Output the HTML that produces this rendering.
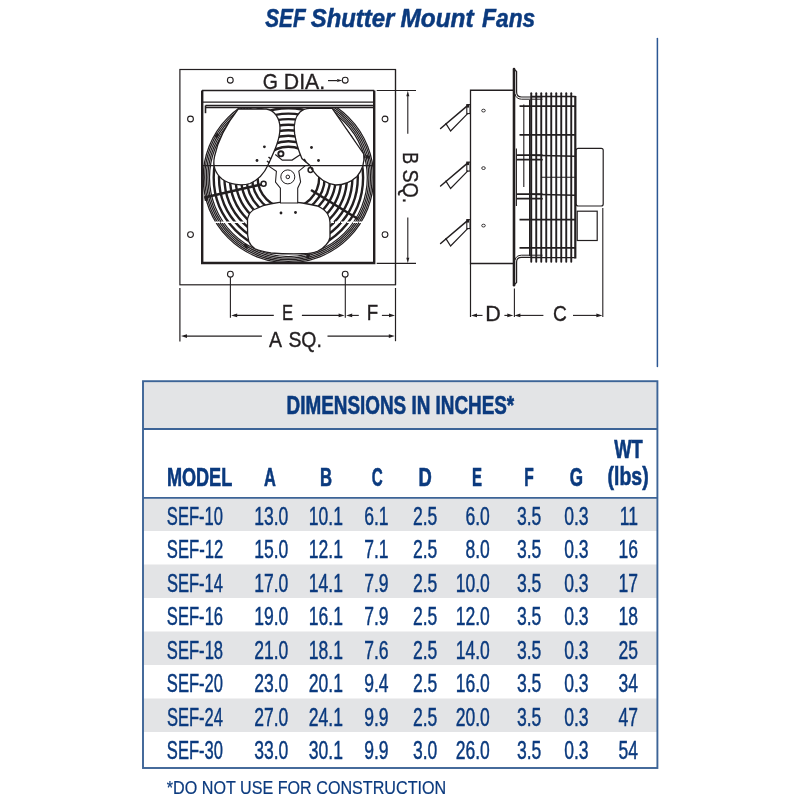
<!DOCTYPE html>
<html><head><meta charset="utf-8"><title>SEF Shutter Mount Fans</title>
<style>
html,body{margin:0;padding:0;background:#fff;width:800px;height:800px;overflow:hidden;}
svg{display:block;will-change:transform;font-family:"Liberation Sans",sans-serif;}
</style></head><body>
<svg width="800" height="800" viewBox="0 0 800 800"><text x="265.25" y="27" font-family="Liberation Sans" font-weight="bold" font-style="italic" font-size="25.4" fill="#0b3a7e" stroke="#0b3a7e" stroke-width="0.5" textLength="40.46" lengthAdjust="spacingAndGlyphs" >SEF</text>
<text x="310.76" y="27" font-family="Liberation Sans" font-weight="bold" font-style="italic" font-size="25.4" fill="#0b3a7e" stroke="#0b3a7e" stroke-width="0.5" textLength="83.61" lengthAdjust="spacingAndGlyphs" >Shutter</text>
<text x="400.42" y="27" font-family="Liberation Sans" font-weight="bold" font-style="italic" font-size="25.4" fill="#0b3a7e" stroke="#0b3a7e" stroke-width="0.5" textLength="73.19" lengthAdjust="spacingAndGlyphs" >Mount</text>
<text x="482.05" y="27" font-family="Liberation Sans" font-weight="bold" font-style="italic" font-size="25.4" fill="#0b3a7e" stroke="#0b3a7e" stroke-width="0.5" textLength="53.18" lengthAdjust="spacingAndGlyphs" >Fans</text>
<line x1="657.4" y1="38.5" x2="657.4" y2="366.5" stroke="#2b5794" stroke-width="1.5" stroke-linecap="round"/>
<rect x="179.9" y="69.5" width="215.6" height="215.3" fill="none" stroke="#231f20" stroke-width="1.2"/><circle cx="230.3" cy="80.2" r="2.9" fill="none" stroke="#231f20" stroke-width="1.1"/><circle cx="345.2" cy="80.2" r="2.9" fill="none" stroke="#231f20" stroke-width="1.1"/><circle cx="190.5" cy="119" r="2.9" fill="none" stroke="#231f20" stroke-width="1.1"/><circle cx="385" cy="119" r="2.9" fill="none" stroke="#231f20" stroke-width="1.1"/><circle cx="190.5" cy="234.6" r="2.9" fill="none" stroke="#231f20" stroke-width="1.1"/><circle cx="385" cy="234.6" r="2.9" fill="none" stroke="#231f20" stroke-width="1.1"/><circle cx="230.4" cy="274.2" r="2.9" fill="none" stroke="#231f20" stroke-width="1.1"/><circle cx="345.2" cy="274.2" r="2.9" fill="none" stroke="#231f20" stroke-width="1.1"/><defs><clipPath id="fc"><rect x="202" y="107" width="172.2" height="156"/></clipPath></defs><g clip-path="url(#fc)"><circle cx="288.4" cy="177.6" r="30.8" fill="none" stroke="#231f20" stroke-width="2.4"/><circle cx="288.4" cy="177.6" r="36.3" fill="none" stroke="#231f20" stroke-width="2.4"/><circle cx="288.4" cy="177.6" r="41.8" fill="none" stroke="#231f20" stroke-width="2.4"/><circle cx="288.4" cy="177.6" r="47.3" fill="none" stroke="#231f20" stroke-width="2.4"/><circle cx="288.4" cy="177.6" r="52.9" fill="none" stroke="#231f20" stroke-width="2.4"/><circle cx="288.4" cy="177.6" r="58.5" fill="none" stroke="#231f20" stroke-width="2.4"/><circle cx="288.4" cy="177.6" r="64" fill="none" stroke="#231f20" stroke-width="2.4"/><circle cx="288.4" cy="177.6" r="69.4" fill="none" stroke="#231f20" stroke-width="2.4"/><circle cx="288.4" cy="177.6" r="74.7" fill="none" stroke="#231f20" stroke-width="2.4"/><circle cx="288.4" cy="177.6" r="78.9" fill="none" stroke="#231f20" stroke-width="1.25"/><circle cx="288.4" cy="177.6" r="80.5" fill="none" stroke="#231f20" stroke-width="1.25"/><circle cx="288.4" cy="177.6" r="82.1" fill="none" stroke="#231f20" stroke-width="1.25"/><circle cx="288.4" cy="177.6" r="83.7" fill="none" stroke="#231f20" stroke-width="1.25"/><circle cx="288.4" cy="177.6" r="85.2" fill="none" stroke="#231f20" stroke-width="1.25"/><line x1="203" y1="222.2" x2="373" y2="222.2" stroke="#fff" stroke-width="1.4" stroke-dasharray="5 1"/><line x1="204.5" y1="197.4" x2="261" y2="184.6" stroke="#231f20" stroke-width="2.6"/><line x1="311" y1="190" x2="358" y2="219" stroke="#231f20" stroke-width="2.6"/><rect x="214.70000000000002" y="133.9" width="4.4" height="3.2" fill="#231f20" transform="rotate(-55 216.9 135.5)"/><rect x="365.5" y="155.4" width="4.4" height="3.2" fill="#231f20" transform="rotate(15 367.7 157)"/><rect x="305.8" y="254.4" width="4.4" height="3.2" fill="#231f20" transform="rotate(-80 308 256)"/><rect x="243.8" y="244.4" width="4.4" height="3.2" fill="#231f20" transform="rotate(50 246 246)"/><rect x="203.8" y="196.9" width="4.4" height="3.2" fill="#231f20" transform="rotate(80 206 198.5)"/><path d="M238.2,109 L266.4,109 C274,110 280,118 280,128 C280,140 274,152 268,165 C264,174 258,180 250,183.5 C242,186 230,185 222,179 C215,173 212.5,165 214.6,156 C218,140 228,122 238.2,109 Z" fill="#fff" stroke="#231f20" stroke-width="1.3"/><path d="M309.7,108.4 L332.2,108.4 L363.7,154 C364.5,160 364,168 357,176.5 C351,182 344,185 335.6,185 C327,184 318,178 312,169.7 L309.7,165.2 L301.9,158.5 C299,152 296,142 294.6,133.7 C293.5,126 295,117 300,112 C303,109.5 306,108.4 309.7,108.4 Z" fill="#fff" stroke="#231f20" stroke-width="1.3"/><path d="M247.5,218.75 C249,213 252,210 256,208.75 C261,206 266,204.5 271,203.75 C277,202.5 282,201.9 287.5,201.9 C293,201.9 298,202.4 302.5,203 C308,204 313,205 317.5,206 C322,208 325.5,210.5 327.5,213.75 C329.5,217 330,220 330,222.5 L330,237.5 C329.5,240 328,243 326,245 C323.5,248 320.5,250 317.5,251.25 C313,253 308,253.5 302.5,253.75 C292,254 281,253.8 271,253 C265,252 259,250.5 255,248.75 C252,247 250,244.5 248.75,241.25 C247.7,237 247.3,232 247.5,227.5 Z" fill="#fff" stroke="#231f20" stroke-width="1.3"/><path d="M268,165.6 L276.4,171.2 L275.5,182 L280.4,188.2 L280.4,203 L297.7,203 L297.7,188.2 L300.6,182 L298.8,171.2 L305.5,165.6 Z" fill="#fff" stroke="#231f20" stroke-width="1.1"/><circle cx="287.8" cy="176.9" r="7" fill="none" stroke="#231f20" stroke-width="1.0"/><circle cx="287.8" cy="176.9" r="1.8" fill="none" stroke="#231f20" stroke-width="1.0"/><path d="M275.3,154.5 L282.3,160.1 L292.1,160.1 L300.5,154.5" stroke="#231f20" stroke-width="1.2" fill="none"/><circle cx="280.9" cy="153.8" r="2.6" fill="none" stroke="#231f20" stroke-width="1.9"/><path d="M268.5,157 L271,159 M267,161 L269.5,163 M304,159 L306,162" stroke="#231f20" stroke-width="1.6"/><circle cx="263.6" cy="183.8" r="2.5" fill="none" stroke="#231f20" stroke-width="1.5"/><circle cx="310.5" cy="170" r="2.4" fill="none" stroke="#231f20" stroke-width="1.5"/><circle cx="264.4" cy="146.8" r="1.4" fill="#231f20"/><circle cx="257" cy="160.5" r="1.4" fill="#231f20"/><circle cx="311.5" cy="147.5" r="1.4" fill="#231f20"/><circle cx="318.5" cy="160.5" r="1.4" fill="#231f20"/><circle cx="281" cy="213" r="1.4" fill="#231f20"/><circle cx="295.5" cy="212.5" r="1.4" fill="#231f20"/><line x1="203" y1="165.6" x2="373.5" y2="165.6" stroke="#231f20" stroke-width="1.3"/></g><path d="M202,90.5 L374.2,90.5" stroke="#231f20" stroke-width="1.3"/><path d="M202.2,90.5 L202.2,263 L374.2,263 L374.2,90.5" fill="none" stroke="#231f20" stroke-width="2.4"/><line x1="202" y1="102.1" x2="374.2" y2="102.1" stroke="#231f20" stroke-width="1.2"/><line x1="205.5" y1="105.5" x2="374.2" y2="105.5" stroke="#231f20" stroke-width="1.3"/><line x1="205.5" y1="107.6" x2="374.2" y2="107.6" stroke="#231f20" stroke-width="1.5"/><line x1="205.5" y1="105.5" x2="205.5" y2="113.2" stroke="#231f20" stroke-width="1.6"/><text x="262.69" y="88.8" font-family="Liberation Sans" font-weight="normal" font-style="normal" font-size="22" fill="#231f20" stroke="#231f20" stroke-width="0.35" textLength="15.19" lengthAdjust="spacingAndGlyphs" >G</text><text x="283.83" y="88.8" font-family="Liberation Sans" font-weight="normal" font-style="normal" font-size="22" fill="#231f20" stroke="#231f20" stroke-width="0.35" textLength="41.33" lengthAdjust="spacingAndGlyphs" >DIA.</text><line x1="328" y1="80.6" x2="337" y2="80.6" stroke="#231f20" stroke-width="1.2"/><path d="M342.2,80.6 L337.2,79.1 L337.2,82.1 Z" fill="#231f20"/><line x1="376.7" y1="90.5" x2="416" y2="90.5" stroke="#231f20" stroke-width="1.1"/><line x1="376.7" y1="263.4" x2="416" y2="263.4" stroke="#231f20" stroke-width="1.1"/><line x1="395.5" y1="69.5" x2="395.5" y2="284.8" stroke="#231f20" stroke-width="1.2"/><line x1="407.8" y1="95" x2="407.8" y2="133.8" stroke="#231f20" stroke-width="1.1"/><line x1="407.8" y1="217.5" x2="407.8" y2="258" stroke="#231f20" stroke-width="1.1"/><path d="M407.8,90.8 L406.3,96.3 L409.3,96.3 Z" fill="#231f20"/><path d="M407.8,263.2 L406.3,257.7 L409.3,257.7 Z" fill="#231f20"/><g transform="translate(402.75,0) rotate(90)"><text x="152.32" y="0" font-family="Liberation Sans" font-weight="normal" font-style="normal" font-size="22" fill="#231f20" stroke="#231f20" stroke-width="0.35" textLength="11.84" lengthAdjust="spacingAndGlyphs" >B</text><text x="169.38" y="0" font-family="Liberation Sans" font-weight="normal" font-style="normal" font-size="22" fill="#231f20" stroke="#231f20" stroke-width="0.35" textLength="33.84" lengthAdjust="spacingAndGlyphs" >SQ.</text></g><line x1="230.4" y1="277.3" x2="230.4" y2="317.8" stroke="#231f20" stroke-width="1.1"/><line x1="345.3" y1="277.3" x2="345.3" y2="317.8" stroke="#231f20" stroke-width="1.1"/><line x1="395.5" y1="288" x2="395.5" y2="341.2" stroke="#231f20" stroke-width="1.2"/><line x1="179.9" y1="288" x2="179.9" y2="341.5" stroke="#231f20" stroke-width="1.2"/><line x1="234" y1="315.4" x2="273.8" y2="315.4" stroke="#231f20" stroke-width="1.1"/><path d="M231.2,315.4 L237.2,313.59999999999997 L237.2,317.2 Z" fill="#231f20"/><line x1="301.9" y1="315.4" x2="340" y2="315.4" stroke="#231f20" stroke-width="1.1"/><path d="M344.6,315.4 L338.6,313.59999999999997 L338.6,317.2 Z" fill="#231f20"/><text x="281.91" y="320" font-family="Liberation Sans" font-weight="normal" font-style="normal" font-size="22" fill="#231f20" stroke="#231f20" stroke-width="0.35" textLength="11.14" lengthAdjust="spacingAndGlyphs" >E</text><line x1="350" y1="315.4" x2="358.8" y2="315.4" stroke="#231f20" stroke-width="1.1"/><path d="M346.2,315.4 L352.2,313.59999999999997 L352.2,317.2 Z" fill="#231f20"/><line x1="381.9" y1="315.4" x2="391" y2="315.4" stroke="#231f20" stroke-width="1.1"/><path d="M395,315.4 L389,313.59999999999997 L389,317.2 Z" fill="#231f20"/><text x="366.64" y="320" font-family="Liberation Sans" font-weight="normal" font-style="normal" font-size="22" fill="#231f20" stroke="#231f20" stroke-width="0.35" textLength="11.44" lengthAdjust="spacingAndGlyphs" >F</text><line x1="184" y1="336.1" x2="261.9" y2="336.1" stroke="#231f20" stroke-width="1.1"/><path d="M181,336.1 L187,334.3 L187,337.90000000000003 Z" fill="#231f20"/><line x1="327.5" y1="336.1" x2="391" y2="336.1" stroke="#231f20" stroke-width="1.1"/><path d="M394.8,336.1 L388.8,334.3 L388.8,337.90000000000003 Z" fill="#231f20"/><text x="269.04" y="347.2" font-family="Liberation Sans" font-weight="normal" font-style="normal" font-size="22" fill="#231f20" stroke="#231f20" stroke-width="0.35" textLength="13.03" lengthAdjust="spacingAndGlyphs" >A</text><text x="288.39" y="347.2" font-family="Liberation Sans" font-weight="normal" font-style="normal" font-size="22" fill="#231f20" stroke="#231f20" stroke-width="0.35" textLength="33.51" lengthAdjust="spacingAndGlyphs" >SQ.</text>
<path d="M513.5,90.25 L470.5,90.25 L470.5,263.5 L513.5,263.5" fill="none" stroke="#231f20" stroke-width="1.3"/><line x1="470.5" y1="263.5" x2="470.5" y2="317" stroke="#231f20" stroke-width="1.2"/><rect x="466.8" y="104.6" width="3.2" height="9" fill="#fff" stroke="#231f20" stroke-width="1.1"/><rect x="466.8" y="104.6" width="2.2" height="3" fill="#231f20"/><path d="M467.5,105.6 L440.6,128.5" stroke="#231f20" stroke-width="1.5" stroke-linecap="round"/><path d="M445.6,123.1 L450.6,131.0 L468.1,113.1" fill="none" stroke="#231f20" stroke-width="1.2"/><ellipse cx="483.5" cy="110.6" rx="1.8" ry="1.4" fill="none" stroke="#231f20" stroke-width="0.9"/><rect x="466.8" y="162.1" width="3.2" height="9" fill="#fff" stroke="#231f20" stroke-width="1.1"/><rect x="466.8" y="162.1" width="2.2" height="3" fill="#231f20"/><path d="M467.5,163.1 L440.6,186.0" stroke="#231f20" stroke-width="1.5" stroke-linecap="round"/><path d="M445.6,180.6 L450.6,188.5 L468.1,170.6" fill="none" stroke="#231f20" stroke-width="1.2"/><ellipse cx="483.5" cy="168.1" rx="1.8" ry="1.4" fill="none" stroke="#231f20" stroke-width="0.9"/><rect x="466.8" y="219.6" width="3.2" height="9" fill="#fff" stroke="#231f20" stroke-width="1.1"/><rect x="466.8" y="219.6" width="2.2" height="3" fill="#231f20"/><path d="M467.5,220.6 L440.6,243.5" stroke="#231f20" stroke-width="1.5" stroke-linecap="round"/><path d="M445.6,238.1 L450.6,246.0 L468.1,228.1" fill="none" stroke="#231f20" stroke-width="1.2"/><ellipse cx="483.5" cy="225.6" rx="1.8" ry="1.4" fill="none" stroke="#231f20" stroke-width="0.9"/><line x1="514" y1="69" x2="514" y2="285.2" stroke="#231f20" stroke-width="2.6" stroke-linecap="round"/><path d="M514,69 L516.6,71.5 L516.6,92 Q516.6,97 521.5,97 L542.5,97" fill="none" stroke="#231f20" stroke-width="1.2"/><path d="M515,94 Q516,99 521.5,99.2 L542.5,99.2" fill="none" stroke="#231f20" stroke-width="1.0"/><path d="M514,285.2 L516.6,282.5 L516.6,262 Q516.6,257.3 521.5,257.3 L542.5,257.3" fill="none" stroke="#231f20" stroke-width="1.2"/><path d="M515,260 Q516,255.4 521.5,255.2 L542.5,255.2" fill="none" stroke="#231f20" stroke-width="1.0"/><line x1="531.25" y1="93.3" x2="531.25" y2="261.8" stroke="#231f20" stroke-width="1.9" stroke-linecap="round"/><line x1="536.25" y1="93.3" x2="536.25" y2="261.8" stroke="#231f20" stroke-width="1.9" stroke-linecap="round"/><line x1="541.25" y1="93.3" x2="541.25" y2="261.8" stroke="#231f20" stroke-width="1.9" stroke-linecap="round"/><line x1="546.25" y1="93.3" x2="546.25" y2="261.8" stroke="#231f20" stroke-width="1.9" stroke-linecap="round"/><line x1="551.25" y1="93.3" x2="551.25" y2="261.8" stroke="#231f20" stroke-width="1.9" stroke-linecap="round"/><line x1="556.25" y1="93.3" x2="556.25" y2="261.8" stroke="#231f20" stroke-width="1.9" stroke-linecap="round"/><line x1="561.25" y1="93.3" x2="561.25" y2="261.8" stroke="#231f20" stroke-width="1.9" stroke-linecap="round"/><line x1="566.25" y1="93.3" x2="566.25" y2="261.8" stroke="#231f20" stroke-width="1.9" stroke-linecap="round"/><line x1="571.25" y1="93.3" x2="571.25" y2="261.8" stroke="#231f20" stroke-width="1.9" stroke-linecap="round"/><line x1="529.8" y1="100" x2="529.8" y2="256" stroke="#231f20" stroke-width="1.6"/><line x1="531" y1="96.5" x2="575.5" y2="96.5" stroke="#231f20" stroke-width="1.3"/><line x1="575.3" y1="96" x2="575.3" y2="258.5" stroke="#231f20" stroke-width="2.2"/><line x1="531" y1="257.7" x2="575.5" y2="257.7" stroke="#231f20" stroke-width="1.3"/><line x1="519.5" y1="106.2" x2="575" y2="106.2" stroke="#231f20" stroke-width="1.8"/><line x1="519.5" y1="134.8" x2="575" y2="134.8" stroke="#231f20" stroke-width="1.8"/><line x1="519.5" y1="219.7" x2="575" y2="219.7" stroke="#231f20" stroke-width="1.8"/><line x1="519.5" y1="247.9" x2="575" y2="247.9" stroke="#231f20" stroke-width="1.8"/><line x1="542" y1="177.3" x2="575" y2="177.3" stroke="#231f20" stroke-width="1.1"/><path d="M517.5,155.2 L542,155.2 M517.5,159.7 L542,159.7" fill="none" stroke="#231f20" stroke-width="1.7" stroke-linecap="round"/><line x1="530" y1="155.2" x2="575" y2="156.2" stroke="#231f20" stroke-width="1.6"/><path d="M517.5,194.2 L542,194.2 M517.5,198.7 L542,198.7" fill="none" stroke="#231f20" stroke-width="1.7" stroke-linecap="round"/><line x1="530" y1="194.2" x2="575" y2="195.2" stroke="#231f20" stroke-width="1.6"/><line x1="523.8" y1="104.5" x2="523.8" y2="187" stroke="#231f20" stroke-width="1.1"/><line x1="516.4" y1="148.5" x2="516.4" y2="206" stroke="#231f20" stroke-width="1.1"/><rect x="576.2" y="148.3" width="27" height="57.7" rx="2" fill="#fff" stroke="#231f20" stroke-width="1.2"/><rect x="577.2" y="211.2" width="20" height="29.3" fill="#fff" stroke="#231f20" stroke-width="1.2"/><line x1="602.8" y1="208" x2="602.8" y2="317" stroke="#231f20" stroke-width="1.1"/><line x1="514.4" y1="288.4" x2="514.4" y2="317" stroke="#231f20" stroke-width="1.1"/><line x1="474" y1="315.4" x2="482.5" y2="315.4" stroke="#231f20" stroke-width="1.1"/><path d="M471,315.4 L477,313.59999999999997 L477,317.2 Z" fill="#231f20"/><line x1="504.4" y1="315.4" x2="510" y2="315.4" stroke="#231f20" stroke-width="1.1"/><path d="M513.3,315.4 L507.29999999999995,313.59999999999997 L507.29999999999995,317.2 Z" fill="#231f20"/><text x="485.31" y="320.6" font-family="Liberation Sans" font-weight="normal" font-style="normal" font-size="22" fill="#231f20" stroke="#231f20" stroke-width="0.35" textLength="15.55" lengthAdjust="spacingAndGlyphs" >D</text><line x1="518" y1="315.4" x2="543.4" y2="315.4" stroke="#231f20" stroke-width="1.1"/><path d="M514.4,315.4 L520.4,313.59999999999997 L520.4,317.2 Z" fill="#231f20"/><line x1="573" y1="315.4" x2="598.5" y2="315.4" stroke="#231f20" stroke-width="1.1"/><path d="M602.4,315.4 L596.4,313.59999999999997 L596.4,317.2 Z" fill="#231f20"/><text x="552.95" y="320.6" font-family="Liberation Sans" font-weight="normal" font-style="normal" font-size="22" fill="#231f20" stroke="#231f20" stroke-width="0.35" textLength="13.85" lengthAdjust="spacingAndGlyphs" >C</text>
<rect x="143" y="381.2" width="514.4" height="386.8" fill="#fff"/><rect x="143" y="381.2" width="514.4" height="47.8" fill="#e3e4e6"/><rect x="143" y="497.5" width="514.4" height="33.5" fill="#e3e4e6"/><rect x="143" y="564.5" width="514.4" height="33.5" fill="#e3e4e6"/><rect x="143" y="631.5" width="514.4" height="33.5" fill="#e3e4e6"/><rect x="143" y="698.5" width="514.4" height="33.5" fill="#e3e4e6"/><rect x="143" y="381.2" width="514.4" height="386.8" fill="none" stroke="#3d6497" stroke-width="1.9"/><line x1="143" y1="429" x2="657.4" y2="429" stroke="#3d6497" stroke-width="1.9"/><line x1="143" y1="497.9" x2="657.4" y2="497.9" stroke="#3d6497" stroke-width="1.9"/><text x="286.54" y="414.3" font-family="Liberation Sans" font-weight="bold" font-style="normal" font-size="25.4" fill="#0b3a7e" stroke="#0b3a7e" stroke-width="0.6" textLength="227.68" lengthAdjust="spacingAndGlyphs" >DIMENSIONS IN INCHES*</text><text x="166.89" y="485.5" font-family="Liberation Sans" font-weight="bold" font-style="normal" font-size="25.4" fill="#0b3a7e" stroke="#0b3a7e" stroke-width="0.6" textLength="65.37" lengthAdjust="spacingAndGlyphs" >MODEL</text><text x="263.99" y="485.5" font-family="Liberation Sans" font-weight="bold" font-style="normal" font-size="25.4" fill="#0b3a7e" stroke="#0b3a7e" stroke-width="0.6" textLength="11.84" lengthAdjust="spacingAndGlyphs" >A</text><text x="319.88" y="485.5" font-family="Liberation Sans" font-weight="bold" font-style="normal" font-size="25.4" fill="#0b3a7e" stroke="#0b3a7e" stroke-width="0.6" textLength="12.08" lengthAdjust="spacingAndGlyphs" >B</text><text x="371.68" y="485.5" font-family="Liberation Sans" font-weight="bold" font-style="normal" font-size="25.4" fill="#0b3a7e" stroke="#0b3a7e" stroke-width="0.6" textLength="10.94" lengthAdjust="spacingAndGlyphs" >C</text><text x="418.57" y="485.5" font-family="Liberation Sans" font-weight="bold" font-style="normal" font-size="25.4" fill="#0b3a7e" stroke="#0b3a7e" stroke-width="0.6" textLength="13.31" lengthAdjust="spacingAndGlyphs" >D</text><text x="471.90" y="485.5" font-family="Liberation Sans" font-weight="bold" font-style="normal" font-size="25.4" fill="#0b3a7e" stroke="#0b3a7e" stroke-width="0.6" textLength="9.99" lengthAdjust="spacingAndGlyphs" >E</text><text x="524.16" y="485.5" font-family="Liberation Sans" font-weight="bold" font-style="normal" font-size="25.4" fill="#0b3a7e" stroke="#0b3a7e" stroke-width="0.6" textLength="9.51" lengthAdjust="spacingAndGlyphs" >F</text><text x="569.80" y="485.5" font-family="Liberation Sans" font-weight="bold" font-style="normal" font-size="25.4" fill="#0b3a7e" stroke="#0b3a7e" stroke-width="0.6" textLength="13.26" lengthAdjust="spacingAndGlyphs" >G</text><text x="614.18" y="457.5" font-family="Liberation Sans" font-weight="bold" font-style="normal" font-size="25.4" fill="#0b3a7e" stroke="#0b3a7e" stroke-width="0.6" textLength="28.46" lengthAdjust="spacingAndGlyphs" >WT</text><text x="607.58" y="485.3" font-family="Liberation Sans" font-weight="bold" font-style="normal" font-size="25.4" fill="#0b3a7e" stroke="#0b3a7e" stroke-width="0.6" textLength="41.09" lengthAdjust="spacingAndGlyphs" >(lbs)</text><text x="166.87" y="524.7" font-family="Liberation Sans" font-weight="normal" font-style="normal" font-size="25.4" fill="#0b3a7e" stroke="#0b3a7e" stroke-width="0.45" textLength="56.15" lengthAdjust="spacingAndGlyphs" >SEF-10</text><text x="254.19" y="524.70" font-family="Liberation Sans" font-size="25.4" fill="#0b3a7e" stroke="#0b3a7e" stroke-width="0.45" textLength="34.11" lengthAdjust="spacingAndGlyphs">13.0</text><text x="308.79" y="524.70" font-family="Liberation Sans" font-size="25.4" fill="#0b3a7e" stroke="#0b3a7e" stroke-width="0.45" textLength="34.11" lengthAdjust="spacingAndGlyphs">10.1</text><text x="364.14" y="524.70" font-family="Liberation Sans" font-size="25.4" fill="#0b3a7e" stroke="#0b3a7e" stroke-width="0.45" textLength="24.36" lengthAdjust="spacingAndGlyphs">6.1</text><text x="412.94" y="524.70" font-family="Liberation Sans" font-size="25.4" fill="#0b3a7e" stroke="#0b3a7e" stroke-width="0.45" textLength="24.36" lengthAdjust="spacingAndGlyphs">2.5</text><text x="465.44" y="524.70" font-family="Liberation Sans" font-size="25.4" fill="#0b3a7e" stroke="#0b3a7e" stroke-width="0.45" textLength="24.36" lengthAdjust="spacingAndGlyphs">6.0</text><text x="516.94" y="524.70" font-family="Liberation Sans" font-size="25.4" fill="#0b3a7e" stroke="#0b3a7e" stroke-width="0.45" textLength="24.36" lengthAdjust="spacingAndGlyphs">3.5</text><text x="564.24" y="524.70" font-family="Liberation Sans" font-size="25.4" fill="#0b3a7e" stroke="#0b3a7e" stroke-width="0.45" textLength="24.36" lengthAdjust="spacingAndGlyphs">0.3</text><text x="619.81" y="524.70" font-family="Liberation Sans" font-size="25.4" fill="#0b3a7e" stroke="#0b3a7e" stroke-width="0.45" textLength="18.19" lengthAdjust="spacingAndGlyphs">11</text><text x="166.87" y="558.2" font-family="Liberation Sans" font-weight="normal" font-style="normal" font-size="25.4" fill="#0b3a7e" stroke="#0b3a7e" stroke-width="0.45" textLength="56.34" lengthAdjust="spacingAndGlyphs" >SEF-12</text><text x="254.19" y="558.20" font-family="Liberation Sans" font-size="25.4" fill="#0b3a7e" stroke="#0b3a7e" stroke-width="0.45" textLength="34.11" lengthAdjust="spacingAndGlyphs">15.0</text><text x="308.79" y="558.20" font-family="Liberation Sans" font-size="25.4" fill="#0b3a7e" stroke="#0b3a7e" stroke-width="0.45" textLength="34.11" lengthAdjust="spacingAndGlyphs">12.1</text><text x="364.14" y="558.20" font-family="Liberation Sans" font-size="25.4" fill="#0b3a7e" stroke="#0b3a7e" stroke-width="0.45" textLength="24.36" lengthAdjust="spacingAndGlyphs">7.1</text><text x="412.94" y="558.20" font-family="Liberation Sans" font-size="25.4" fill="#0b3a7e" stroke="#0b3a7e" stroke-width="0.45" textLength="24.36" lengthAdjust="spacingAndGlyphs">2.5</text><text x="465.44" y="558.20" font-family="Liberation Sans" font-size="25.4" fill="#0b3a7e" stroke="#0b3a7e" stroke-width="0.45" textLength="24.36" lengthAdjust="spacingAndGlyphs">8.0</text><text x="516.94" y="558.20" font-family="Liberation Sans" font-size="25.4" fill="#0b3a7e" stroke="#0b3a7e" stroke-width="0.45" textLength="24.36" lengthAdjust="spacingAndGlyphs">3.5</text><text x="564.24" y="558.20" font-family="Liberation Sans" font-size="25.4" fill="#0b3a7e" stroke="#0b3a7e" stroke-width="0.45" textLength="24.36" lengthAdjust="spacingAndGlyphs">0.3</text><text x="618.51" y="558.20" font-family="Liberation Sans" font-size="25.4" fill="#0b3a7e" stroke="#0b3a7e" stroke-width="0.45" textLength="19.49" lengthAdjust="spacingAndGlyphs">16</text><text x="166.88" y="591.7" font-family="Liberation Sans" font-weight="normal" font-style="normal" font-size="25.4" fill="#0b3a7e" stroke="#0b3a7e" stroke-width="0.45" textLength="55.98" lengthAdjust="spacingAndGlyphs" >SEF-14</text><text x="254.19" y="591.70" font-family="Liberation Sans" font-size="25.4" fill="#0b3a7e" stroke="#0b3a7e" stroke-width="0.45" textLength="34.11" lengthAdjust="spacingAndGlyphs">17.0</text><text x="308.79" y="591.70" font-family="Liberation Sans" font-size="25.4" fill="#0b3a7e" stroke="#0b3a7e" stroke-width="0.45" textLength="34.11" lengthAdjust="spacingAndGlyphs">14.1</text><text x="364.14" y="591.70" font-family="Liberation Sans" font-size="25.4" fill="#0b3a7e" stroke="#0b3a7e" stroke-width="0.45" textLength="24.36" lengthAdjust="spacingAndGlyphs">7.9</text><text x="412.94" y="591.70" font-family="Liberation Sans" font-size="25.4" fill="#0b3a7e" stroke="#0b3a7e" stroke-width="0.45" textLength="24.36" lengthAdjust="spacingAndGlyphs">2.5</text><text x="455.69" y="591.70" font-family="Liberation Sans" font-size="25.4" fill="#0b3a7e" stroke="#0b3a7e" stroke-width="0.45" textLength="34.11" lengthAdjust="spacingAndGlyphs">10.0</text><text x="516.94" y="591.70" font-family="Liberation Sans" font-size="25.4" fill="#0b3a7e" stroke="#0b3a7e" stroke-width="0.45" textLength="24.36" lengthAdjust="spacingAndGlyphs">3.5</text><text x="564.24" y="591.70" font-family="Liberation Sans" font-size="25.4" fill="#0b3a7e" stroke="#0b3a7e" stroke-width="0.45" textLength="24.36" lengthAdjust="spacingAndGlyphs">0.3</text><text x="618.51" y="591.70" font-family="Liberation Sans" font-size="25.4" fill="#0b3a7e" stroke="#0b3a7e" stroke-width="0.45" textLength="19.49" lengthAdjust="spacingAndGlyphs">17</text><text x="166.87" y="625.2" font-family="Liberation Sans" font-weight="normal" font-style="normal" font-size="25.4" fill="#0b3a7e" stroke="#0b3a7e" stroke-width="0.45" textLength="56.23" lengthAdjust="spacingAndGlyphs" >SEF-16</text><text x="254.19" y="625.20" font-family="Liberation Sans" font-size="25.4" fill="#0b3a7e" stroke="#0b3a7e" stroke-width="0.45" textLength="34.11" lengthAdjust="spacingAndGlyphs">19.0</text><text x="308.79" y="625.20" font-family="Liberation Sans" font-size="25.4" fill="#0b3a7e" stroke="#0b3a7e" stroke-width="0.45" textLength="34.11" lengthAdjust="spacingAndGlyphs">16.1</text><text x="364.14" y="625.20" font-family="Liberation Sans" font-size="25.4" fill="#0b3a7e" stroke="#0b3a7e" stroke-width="0.45" textLength="24.36" lengthAdjust="spacingAndGlyphs">7.9</text><text x="412.94" y="625.20" font-family="Liberation Sans" font-size="25.4" fill="#0b3a7e" stroke="#0b3a7e" stroke-width="0.45" textLength="24.36" lengthAdjust="spacingAndGlyphs">2.5</text><text x="455.69" y="625.20" font-family="Liberation Sans" font-size="25.4" fill="#0b3a7e" stroke="#0b3a7e" stroke-width="0.45" textLength="34.11" lengthAdjust="spacingAndGlyphs">12.0</text><text x="516.94" y="625.20" font-family="Liberation Sans" font-size="25.4" fill="#0b3a7e" stroke="#0b3a7e" stroke-width="0.45" textLength="24.36" lengthAdjust="spacingAndGlyphs">3.5</text><text x="564.24" y="625.20" font-family="Liberation Sans" font-size="25.4" fill="#0b3a7e" stroke="#0b3a7e" stroke-width="0.45" textLength="24.36" lengthAdjust="spacingAndGlyphs">0.3</text><text x="618.51" y="625.20" font-family="Liberation Sans" font-size="25.4" fill="#0b3a7e" stroke="#0b3a7e" stroke-width="0.45" textLength="19.49" lengthAdjust="spacingAndGlyphs">18</text><text x="166.87" y="658.7" font-family="Liberation Sans" font-weight="normal" font-style="normal" font-size="25.4" fill="#0b3a7e" stroke="#0b3a7e" stroke-width="0.45" textLength="56.22" lengthAdjust="spacingAndGlyphs" >SEF-18</text><text x="254.19" y="658.70" font-family="Liberation Sans" font-size="25.4" fill="#0b3a7e" stroke="#0b3a7e" stroke-width="0.45" textLength="34.11" lengthAdjust="spacingAndGlyphs">21.0</text><text x="308.79" y="658.70" font-family="Liberation Sans" font-size="25.4" fill="#0b3a7e" stroke="#0b3a7e" stroke-width="0.45" textLength="34.11" lengthAdjust="spacingAndGlyphs">18.1</text><text x="364.14" y="658.70" font-family="Liberation Sans" font-size="25.4" fill="#0b3a7e" stroke="#0b3a7e" stroke-width="0.45" textLength="24.36" lengthAdjust="spacingAndGlyphs">7.6</text><text x="412.94" y="658.70" font-family="Liberation Sans" font-size="25.4" fill="#0b3a7e" stroke="#0b3a7e" stroke-width="0.45" textLength="24.36" lengthAdjust="spacingAndGlyphs">2.5</text><text x="455.69" y="658.70" font-family="Liberation Sans" font-size="25.4" fill="#0b3a7e" stroke="#0b3a7e" stroke-width="0.45" textLength="34.11" lengthAdjust="spacingAndGlyphs">14.0</text><text x="516.94" y="658.70" font-family="Liberation Sans" font-size="25.4" fill="#0b3a7e" stroke="#0b3a7e" stroke-width="0.45" textLength="24.36" lengthAdjust="spacingAndGlyphs">3.5</text><text x="564.24" y="658.70" font-family="Liberation Sans" font-size="25.4" fill="#0b3a7e" stroke="#0b3a7e" stroke-width="0.45" textLength="24.36" lengthAdjust="spacingAndGlyphs">0.3</text><text x="618.51" y="658.70" font-family="Liberation Sans" font-size="25.4" fill="#0b3a7e" stroke="#0b3a7e" stroke-width="0.45" textLength="19.49" lengthAdjust="spacingAndGlyphs">25</text><text x="166.87" y="692.2" font-family="Liberation Sans" font-weight="normal" font-style="normal" font-size="25.4" fill="#0b3a7e" stroke="#0b3a7e" stroke-width="0.45" textLength="56.15" lengthAdjust="spacingAndGlyphs" >SEF-20</text><text x="254.19" y="692.20" font-family="Liberation Sans" font-size="25.4" fill="#0b3a7e" stroke="#0b3a7e" stroke-width="0.45" textLength="34.11" lengthAdjust="spacingAndGlyphs">23.0</text><text x="308.79" y="692.20" font-family="Liberation Sans" font-size="25.4" fill="#0b3a7e" stroke="#0b3a7e" stroke-width="0.45" textLength="34.11" lengthAdjust="spacingAndGlyphs">20.1</text><text x="364.14" y="692.20" font-family="Liberation Sans" font-size="25.4" fill="#0b3a7e" stroke="#0b3a7e" stroke-width="0.45" textLength="24.36" lengthAdjust="spacingAndGlyphs">9.4</text><text x="412.94" y="692.20" font-family="Liberation Sans" font-size="25.4" fill="#0b3a7e" stroke="#0b3a7e" stroke-width="0.45" textLength="24.36" lengthAdjust="spacingAndGlyphs">2.5</text><text x="455.69" y="692.20" font-family="Liberation Sans" font-size="25.4" fill="#0b3a7e" stroke="#0b3a7e" stroke-width="0.45" textLength="34.11" lengthAdjust="spacingAndGlyphs">16.0</text><text x="516.94" y="692.20" font-family="Liberation Sans" font-size="25.4" fill="#0b3a7e" stroke="#0b3a7e" stroke-width="0.45" textLength="24.36" lengthAdjust="spacingAndGlyphs">3.5</text><text x="564.24" y="692.20" font-family="Liberation Sans" font-size="25.4" fill="#0b3a7e" stroke="#0b3a7e" stroke-width="0.45" textLength="24.36" lengthAdjust="spacingAndGlyphs">0.3</text><text x="618.51" y="692.20" font-family="Liberation Sans" font-size="25.4" fill="#0b3a7e" stroke="#0b3a7e" stroke-width="0.45" textLength="19.49" lengthAdjust="spacingAndGlyphs">34</text><text x="166.88" y="725.7" font-family="Liberation Sans" font-weight="normal" font-style="normal" font-size="25.4" fill="#0b3a7e" stroke="#0b3a7e" stroke-width="0.45" textLength="55.98" lengthAdjust="spacingAndGlyphs" >SEF-24</text><text x="254.19" y="725.70" font-family="Liberation Sans" font-size="25.4" fill="#0b3a7e" stroke="#0b3a7e" stroke-width="0.45" textLength="34.11" lengthAdjust="spacingAndGlyphs">27.0</text><text x="308.79" y="725.70" font-family="Liberation Sans" font-size="25.4" fill="#0b3a7e" stroke="#0b3a7e" stroke-width="0.45" textLength="34.11" lengthAdjust="spacingAndGlyphs">24.1</text><text x="364.14" y="725.70" font-family="Liberation Sans" font-size="25.4" fill="#0b3a7e" stroke="#0b3a7e" stroke-width="0.45" textLength="24.36" lengthAdjust="spacingAndGlyphs">9.9</text><text x="412.94" y="725.70" font-family="Liberation Sans" font-size="25.4" fill="#0b3a7e" stroke="#0b3a7e" stroke-width="0.45" textLength="24.36" lengthAdjust="spacingAndGlyphs">2.5</text><text x="455.69" y="725.70" font-family="Liberation Sans" font-size="25.4" fill="#0b3a7e" stroke="#0b3a7e" stroke-width="0.45" textLength="34.11" lengthAdjust="spacingAndGlyphs">20.0</text><text x="516.94" y="725.70" font-family="Liberation Sans" font-size="25.4" fill="#0b3a7e" stroke="#0b3a7e" stroke-width="0.45" textLength="24.36" lengthAdjust="spacingAndGlyphs">3.5</text><text x="564.24" y="725.70" font-family="Liberation Sans" font-size="25.4" fill="#0b3a7e" stroke="#0b3a7e" stroke-width="0.45" textLength="24.36" lengthAdjust="spacingAndGlyphs">0.3</text><text x="618.51" y="725.70" font-family="Liberation Sans" font-size="25.4" fill="#0b3a7e" stroke="#0b3a7e" stroke-width="0.45" textLength="19.49" lengthAdjust="spacingAndGlyphs">47</text><text x="166.87" y="759.2" font-family="Liberation Sans" font-weight="normal" font-style="normal" font-size="25.4" fill="#0b3a7e" stroke="#0b3a7e" stroke-width="0.45" textLength="56.15" lengthAdjust="spacingAndGlyphs" >SEF-30</text><text x="254.19" y="759.20" font-family="Liberation Sans" font-size="25.4" fill="#0b3a7e" stroke="#0b3a7e" stroke-width="0.45" textLength="34.11" lengthAdjust="spacingAndGlyphs">33.0</text><text x="308.79" y="759.20" font-family="Liberation Sans" font-size="25.4" fill="#0b3a7e" stroke="#0b3a7e" stroke-width="0.45" textLength="34.11" lengthAdjust="spacingAndGlyphs">30.1</text><text x="364.14" y="759.20" font-family="Liberation Sans" font-size="25.4" fill="#0b3a7e" stroke="#0b3a7e" stroke-width="0.45" textLength="24.36" lengthAdjust="spacingAndGlyphs">9.9</text><text x="412.94" y="759.20" font-family="Liberation Sans" font-size="25.4" fill="#0b3a7e" stroke="#0b3a7e" stroke-width="0.45" textLength="24.36" lengthAdjust="spacingAndGlyphs">3.0</text><text x="455.69" y="759.20" font-family="Liberation Sans" font-size="25.4" fill="#0b3a7e" stroke="#0b3a7e" stroke-width="0.45" textLength="34.11" lengthAdjust="spacingAndGlyphs">26.0</text><text x="516.94" y="759.20" font-family="Liberation Sans" font-size="25.4" fill="#0b3a7e" stroke="#0b3a7e" stroke-width="0.45" textLength="24.36" lengthAdjust="spacingAndGlyphs">3.5</text><text x="564.24" y="759.20" font-family="Liberation Sans" font-size="25.4" fill="#0b3a7e" stroke="#0b3a7e" stroke-width="0.45" textLength="24.36" lengthAdjust="spacingAndGlyphs">0.3</text><text x="618.51" y="759.20" font-family="Liberation Sans" font-size="25.4" fill="#0b3a7e" stroke="#0b3a7e" stroke-width="0.45" textLength="19.49" lengthAdjust="spacingAndGlyphs">54</text><text x="166.84" y="793.7" font-family="Liberation Sans" font-weight="normal" font-style="normal" font-size="18.2" fill="#0b3a7e" stroke="#0b3a7e" stroke-width="0.2" textLength="279.37" lengthAdjust="spacingAndGlyphs" >*DO NOT USE FOR CONSTRUCTION</text></svg>
</body></html>
